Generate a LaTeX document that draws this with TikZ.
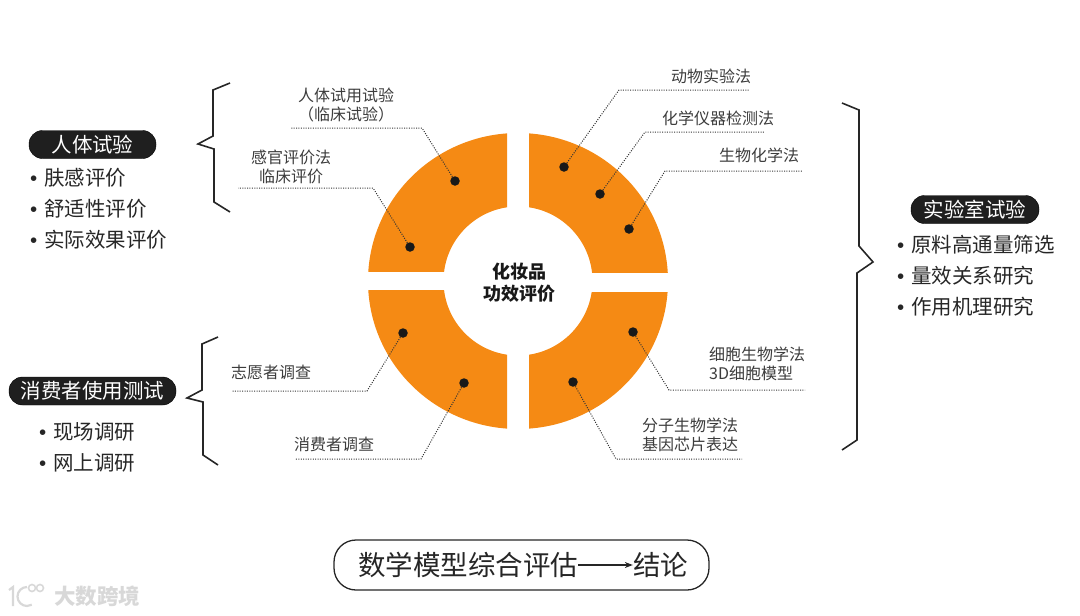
\documentclass[tikz,border=0pt]{standalone}
\usepackage{fontspec}
\setmainfont{Noto Sans CJK SC}
\newfontfamily\bulletfont{Liberation Sans}
\usetikzlibrary{arrows.meta, positioning, calc}
\definecolor{ringorange}{HTML}{F58A14}
\definecolor{labelgray}{HTML}{3C3C3C}
\definecolor{markgray}{HTML}{D8D8D8}
\newcommand{\itemdot}{{\bulletfont •}\hspace{7pt}}

\begin{document}
\begin{tikzpicture}[
		x=1pt, y=-1pt,
		>=Stealth,
		% Estilos
		pill/.style={draw=black, fill=black!88, text=white, rounded corners=13.5pt, inner sep=0pt, font=\fontsize{20.5}{24}\selectfont},
		label/.style={text=labelgray, align=center, inner sep=0pt, font=\fontsize{16}{19}\selectfont},
		item/.style={text=black!85, anchor=west, inner sep=0pt, yshift=-0.7pt, font=\fontsize{20.5}{24}\selectfont},
		spot/.style={circle, fill=black!90, inner sep=0pt, minimum size=9.5pt},
		leader/.style={draw=black!80, dash pattern=on 1pt off 1.4pt, line width=1pt},
		brace/.style={draw=black!85, line width=1.6pt, line join=miter},
		]
		\useasboundingbox (0,0) rectangle (1080,616);
		
		% --- ANILLO ---
		\coordinate (ring) at (518,281);
		\foreach \xa/\ya/\xb/\yb in {350/120/507/271, 529/120/690/272, 350/290/507/440, 529/292/690/440} {
			\begin{scope}
				\clip (\xa,\ya) rectangle (\xb,\yb);
				\fill[ringorange, even odd rule] (ring) ellipse [x radius=150, y radius=148] (ring) circle (74.5);
			\end{scope}
		}
		\node [inner sep=0pt, align=center, text=black!90, font=\fontsize{18}{22}\selectfont\bfseries] (center) at (519,283) {化妆品\\功效评价};
		
		% --- PUNTOS ---
		\node [spot] (human1) at (455,181) {};
		\node [spot] (human2) at (410,247) {};
		\node [spot] (lab1) at (564,167) {};
		\node [spot] (lab2) at (600,194) {};
		\node [spot] (lab3) at (629,229) {};
		\node [spot] (lab4) at (633,332) {};
		\node [spot] (lab5) at (573,382) {};
		\node [spot] (user1) at (403,333) {};
		\node [spot] (user2) at (464,383) {};
		
		% --- ETIQUETAS ---
		\node [label] (humanlabel1) at (346,104.5) {人体试用试验\\（临床试验）};
		\node [label] (humanlabel2) at (291,167) {感官评价法\\临床评价};
		\node [label] (lablabel1) at (711,76) {动物实验法};
		\node [label] (lablabel2) at (718,118) {化学仪器检测法};
		\node [label] (lablabel3) at (759,155) {生物化学法};
		\node [label, align=left, anchor=west] (lablabel4) at (709,364) {细胞生物学法\\3D细胞模型};
		\node [label, align=left, anchor=west] (lablabel5) at (642,435) {分子生物学法\\基因芯片表达};
		\node [label] (userlabel1) at (271,372) {志愿者调查};
		\node [label] (userlabel2) at (334,444) {消费者调查};
		
		% --- LÍNEAS DE PUNTOS ---
		\foreach \from/\bx/\by/\ex in {human1/422/128/290, human2/373/188/238, lab1/619/90/750, lab2/645/132/765, lab3/665/171/803, lab4/669/390/805, lab5/616/459/742, user1/367/391/232, user2/421/459/295} {
			\coordinate (bend-\from) at (\bx,\by);
			\coordinate (end-\from) at (\ex,\by);
			\draw [leader] (\from) -- (bend-\from) -- (end-\from);
		}
		
		% --- LLAVES ---
		\draw [brace] (230,83) -- (213,90) -- (213,136) -- (198,144) -- (214,149) -- (214,202) -- (230,212);
		\draw [brace] (218,337) -- (202,344) -- (202,390) -- (187,398) -- (203,402) -- (203,455) -- (218,465);
		\draw [brace] (842,103) -- (859,110) -- (859,246) -- (873,262) -- (857,273) -- (857,440) -- (842,450);
		
		% --- GRUPOS ---
		\node [pill, minimum width=127pt, minimum height=28pt] (human) at (92.5,144.5) {人体试验};
		\node [item] (humanitem1) at (30,177) {\itemdot 肤感评价};
		\node [item] (humanitem2) at (30,208) {\itemdot 舒适性评价};
		\node [item] (humanitem3) at (30,239) {\itemdot 实际效果评价};
		
		\node [pill, minimum width=167pt, minimum height=28pt] (user) at (92.5,391) {消费者使用测试};
		\node [item] (useritem1) at (39,431) {\itemdot 现场调研};
		\node [item] (useritem2) at (39,462) {\itemdot 网上调研};
		
		\node [pill, minimum width=128pt, minimum height=28pt] (lab) at (975,209.5) {实验室试验};
		\node [item] (labitem1) at (897,244) {\itemdot 原料高通量筛选};
		\node [item] (labitem2) at (897,275) {\itemdot 量效关系研究};
		\node [item] (labitem3) at (897,306) {\itemdot 作用机理研究};
		
		% --- CONCLUSIÓN ---
		\draw [draw=black!85, line width=1.3pt, rounded corners=22pt] (334,540) rectangle (709,590);
		\node [inner sep=0pt, text=black!85, font=\fontsize{27.5}{32}\selectfont] (model) at (468,565) {数学模型综合评估};
		\node [inner sep=0pt, text=black!85, font=\fontsize{27.5}{32}\selectfont] (result) at (660.5,565) {结论};
		\draw [->, line width=1.1pt, black!85] (model) -- (result);
		
		% --- MARCA ---
		\node [inner sep=0pt, anchor=west, text=markgray, font=\fontsize{21.5}{25}\selectfont\bfseries] (mark) at (54,596) {大数跨境};
		\draw [markgray, line width=2.2pt] (9,590) -- (13,587) -- (13,606);
		\draw [markgray, line width=2.2pt] (27,587) arc (270:60:9.5);
		\node [circle, draw=markgray, line width=1.6pt, inner sep=0pt, minimum size=7pt] (markdot1) at (32,588) {};
		\node [circle, draw=markgray, line width=1.6pt, inner sep=0pt, minimum size=7pt] (markdot2) at (40,588) {};
	\end{tikzpicture}
\end{document}
